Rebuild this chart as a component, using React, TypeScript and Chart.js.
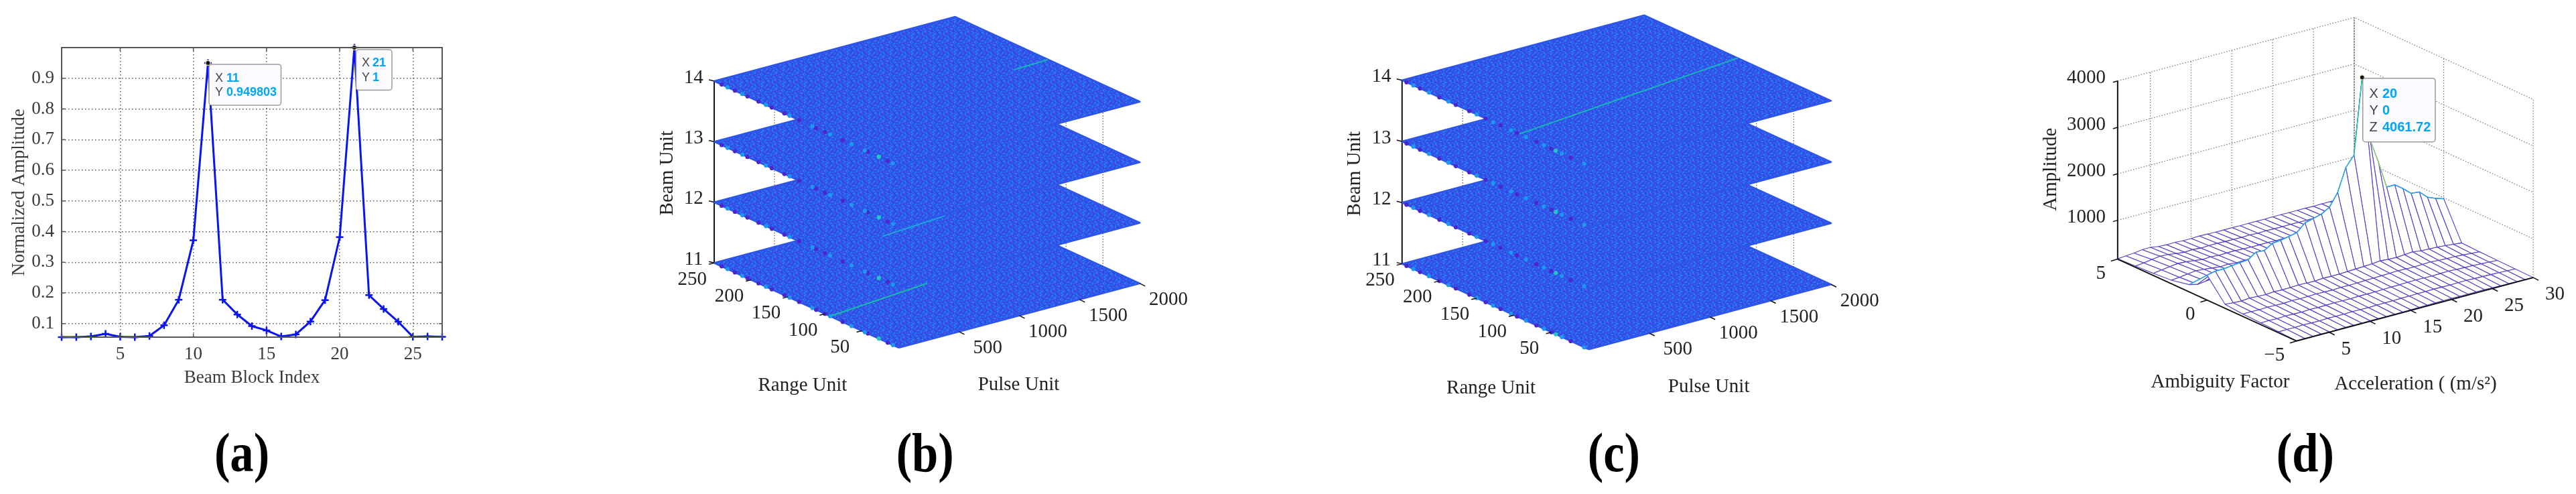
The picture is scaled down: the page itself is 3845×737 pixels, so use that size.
import React, { useEffect, useRef } from "react";
import { Chart, registerables } from "chart.js";

Chart.register(...registerables);

const SERIF = '"Liberation Serif"';
const SANS = '"Liberation Sans"';

// ---------- panel (a) ----------
const blockIndex = [1,2,3,4,5,6,7,8,9,10,11,12,13,14,15,16,17,18,19,20,21,22,23,24,25,26,27];
const blockAmplitude = [0.056,0.056,0.058,0.067,0.057,0.056,0.06,0.095,0.178,0.372,0.949803,0.178,0.13,0.092,0.078,0.058,0.065,0.107,0.177,0.382,1,0.193,0.148,0.106,0.057,0.058,0.057];
const blockXTicks = [5,10,15,20,25];
const blockYTicks = [0.1,0.2,0.3,0.4,0.5,0.6,0.7,0.8,0.9];
const blockTips = [{ x: 11, y: 0.949803 }, { x: 21, y: 1 }];

// ---------- panels (b) and (c) ----------
const pulseTicks = [500,1000,1500,2000];
const rangeTicks = [50,100,150,200,250];
const beamTicks = [11,12,13,14];
const bTracks = [
  { beam: 11, pulse: [0, 887], range: [93, 106], color: "#17bfa8" },
  { beam: 12, pulse: [492, 1054], range: [103, 110], color: "#1aa8d8" },
  { beam: 14, pulse: [1701, 1997], range: [122, 124], color: "#18b0c0" },
];
const cTracks = [
  { beam: 14, pulse: [0, 2000], range: [93, 125], color: "#18b8b4" },
];
const bBeadsDark = [240,222,205,190,172,155,135,112,100,76,42,15];
const bBeadsLight = [232,212,180,148,117,93,64,46,8];
const bBeadsTeal = [27];
const cBeadsDark = [244,226,200,178,160,138,118,96,70,50,24];
const cBeadsLight = [235,214,188,150,128,104,84,60,36,6];
const cBeadsTeal = [44];

// ---------- panel (d) ----------
const accel = [1,2,3,4,5,6,7,8,9,10,11,12,13,14,15,16,17,18,19,20,21,22,23,24,25,26,27,28,29,30];
const ambiguity = [5,4,3,2,1,0,-1,-2,-3,-4,-5];
const row5  = [170,185,200,225,228,200,190,195,180,185,190,185,180,178,182,175,180,178,176,180,178,175,178,176,172,175,176,174,172,170];
const row4  = [190,210,235,260,250,225,205,215,200,205,210,200,198,195,200,190,196,192,190,194,190,188,190,186,182,185,186,182,180,178];
const row3  = [210,235,260,280,270,250,225,235,220,225,228,218,212,210,215,205,210,208,205,212,208,202,205,198,195,196,198,192,188,185];
const row2  = [240,255,280,300,285,265,245,255,238,245,248,235,228,225,232,222,230,225,222,232,226,218,220,212,206,208,210,204,198,194];
const row1  = [320,280,300,318,300,285,265,272,255,265,268,252,245,242,250,240,252,246,245,268,250,238,236,228,218,220,222,214,206,200];
const row0  = [699,740,740,760,780,796,913,900,1007,1027,1060,1100,1260,1307,1354,1458,1728,2216,2436,4061.72,2657,2142,1561,1561,1434,1284,1267,1107,1033,980];
const rowM1 = [250,235,225,240,230,222,238,228,232,240,236,230,245,238,240,248,255,262,270,290,275,268,282,296,270,262,256,240,222,205];
const rowM2 = [215,220,212,222,215,210,222,215,218,225,220,215,226,222,224,232,236,240,244,252,246,240,248,254,240,234,228,216,204,190];
const rowM3 = [200,205,198,208,202,198,208,202,205,210,206,202,212,208,210,216,220,222,226,230,226,222,228,232,222,216,210,202,192,182];
const rowM4 = [185,190,186,194,188,186,194,188,190,196,192,188,196,194,196,200,202,204,206,210,206,204,208,210,202,198,194,188,180,174];
const rowM5 = [170,172,170,176,172,170,176,172,174,178,175,172,178,176,178,182,184,186,186,190,186,184,186,188,182,178,176,172,168,166];
const surfaceRows = [row5,row4,row3,row2,row1,row0,rowM1,rowM2,rowM3,rowM4,rowM5];
const ampTicks = [1000,2000,3000,4000];
const accelTicks = [5,10,15,20,25,30];
const ambiguityTicks = [5,0,-5];

// Hand-picked mottled tile standing in for the noise texture of the planes.
const tileRows = [
  "0120301002130210","2001020310201032","1020013002010201","0302100120300120",
  "2010203001021003","0100120210200210","1302001020130020","0021030120020301",
  "2100201003010120","0201300210200203","1020021001320100","3001020120010210",
];
const tilePalette = ["#2f56ea","#2a6cf0","#433fdc","#2488f4"];

function makeTile(): CanvasPattern | string {
  const c = document.createElement("canvas");
  const cell = 2;
  c.width = tileRows[0].length * cell;
  c.height = tileRows.length * cell;
  const g = c.getContext("2d");
  if (!g) return tilePalette[0];
  tileRows.forEach((row, j) => {
    [...row].forEach((d, i) => {
      g.fillStyle = tilePalette[Number(d)];
      g.fillRect(i * cell, j * cell, cell, cell);
    });
  });
  return g.createPattern(c, "repeat") || tilePalette[0];
}

type TextItem = { t: string; x: number; y: number; align?: CanvasTextAlign; rot?: number };

function drawTexts(chart: any, items: TextItem[], font: string, color: string) {
  const { ctx, scales } = chart;
  ctx.save();
  ctx.font = font;
  ctx.fillStyle = color;
  ctx.textBaseline = "middle";
  for (const it of items) {
    const px = scales.x.getPixelForValue(it.x);
    const py = scales.y.getPixelForValue(it.y);
    ctx.save();
    ctx.translate(px, py);
    if (it.rot) ctx.rotate(it.rot);
    ctx.textAlign = it.align || "center";
    ctx.fillText(it.t, 0, 0);
    ctx.restore();
  }
  ctx.restore();
}

function drawPanelLabel(ctx: CanvasRenderingContext2D, t: string, x: number) {
  ctx.save();
  ctx.font = `bold 82px ${SERIF}`;
  ctx.fillStyle = "#000";
  ctx.textAlign = "center";
  ctx.textBaseline = "alphabetic";
  ctx.translate(x, 703);
  ctx.scale(0.86, 1);
  ctx.fillText(t, 0, 0);
  ctx.restore();
}

function drawTip(ctx: CanvasRenderingContext2D, box: number[], lines: string[][], labelX: number, valueX: number, ys: number[], size: number) {
  const [x0, y0, x1, y1] = box;
  ctx.save();
  ctx.beginPath();
  ctx.roundRect(x0, y0, x1 - x0, y1 - y0, 4);
  ctx.fillStyle = "#fafaff";
  ctx.fill();
  ctx.strokeStyle = "#9a9a9a";
  ctx.lineWidth = 1.5;
  ctx.stroke();
  ctx.textBaseline = "middle";
  ctx.textAlign = "left";
  lines.forEach((l, i) => {
    ctx.font = `${size}px ${SANS}`;
    ctx.fillStyle = "#444";
    ctx.fillText(l[0], labelX, ys[i]);
    ctx.font = `bold ${size}px ${SANS}`;
    ctx.fillStyle = "#00a6f5";
    ctx.fillText(l[1], valueX, ys[i]);
  });
  ctx.restore();
}

const polyline = (pts: { x: number; y: number }[], color: any, width: number, extra: any = {}) => ({
  data: pts,
  showLine: true,
  pointRadius: 0,
  borderColor: color,
  borderWidth: width,
  tension: 0,
  fill: false,
  clip: false,
  ...extra,
});

const beads = (pts: { x: number; y: number }[], color: string) => ({
  data: pts,
  showLine: false,
  pointRadius: 3.1,
  pointBackgroundColor: color,
  pointBorderWidth: 0,
  clip: false,
});

function panelA(canvas: HTMLCanvasElement) {
  const framePlugin = {
    id: "frameA",
    afterDatasetsDraw(chart: any) {
      const { ctx, chartArea: a, scales } = chart;
      ctx.save();
      ctx.strokeStyle = "#555";
      ctx.lineWidth = 2;
      ctx.strokeRect(a.left, a.top, a.right - a.left, a.bottom - a.top);
      ctx.beginPath();
      for (const v of blockXTicks) {
        const p = scales.x.getPixelForValue(v);
        ctx.moveTo(p, a.top); ctx.lineTo(p, a.top + 5);
        ctx.moveTo(p, a.bottom); ctx.lineTo(p, a.bottom - 5);
      }
      for (const v of blockYTicks) {
        const p = scales.y.getPixelForValue(v);
        ctx.moveTo(a.left, p); ctx.lineTo(a.left + 5, p);
        ctx.moveTo(a.right, p); ctx.lineTo(a.right - 5, p);
      }
      ctx.lineWidth = 1.5;
      ctx.stroke();
      ctx.restore();
    },
    afterDraw(chart: any) {
      const { ctx } = chart;
      drawTip(ctx, [312, 96, 419.5, 157], [["X", "11"], ["Y", "0.949803"]], 321, 338, [117, 138], 18);
      drawTip(ctx, [531.5, 74, 585, 134.5], [["X", "21"], ["Y", "1"]], 540, 556, [94, 116], 18);
      drawPanelLabel(ctx, "(a)", 361);
    },
  };
  return new Chart(canvas, {
    type: "line",
    data: {
      labels: blockIndex,
      datasets: [
        {
          data: blockTips,
          showLine: false,
          pointRadius: 3.5,
          pointBackgroundColor: "#111",
          pointBorderColor: "#f7f0b8",
          pointBorderWidth: 1.2,
          clip: false,
        },
        {
          data: blockIndex.map((x, i) => ({ x, y: blockAmplitude[i] })),
          borderColor: "#0a14f0",
          borderWidth: 3,
          tension: 0,
          pointStyle: "cross",
          pointRadius: 5.5,
          pointBorderColor: "#0a14f0",
          pointBorderWidth: 2.5,
          clip: false,
        },
      ] as any,
    },
    plugins: [framePlugin],
    options: {
      animation: false,
      responsive: false,
      devicePixelRatio: 1,
      parsing: undefined as any,
      layout: { padding: { top: 71, right: 140, left: 0, bottom: 0 } },
      plugins: { legend: { display: false }, tooltip: { enabled: false } },
      scales: {
        x: {
          type: "linear",
          min: 1,
          max: 27,
          afterFit(s: any) { s.height = 234; },
          afterBuildTicks(s: any) { s.ticks = blockXTicks.map((value) => ({ value })); },
          grid: { color: "#555", lineWidth: 1.5, drawTicks: false },
          border: { display: false, dash: [1.5, 3.5] },
          ticks: { padding: 10, color: "#3a3a3a", font: { family: "Liberation Serif", size: 27 }, maxRotation: 0, autoSkip: false },
          title: { display: true, text: "Beam Block Index", color: "#3a3a3a", font: { family: "Liberation Serif", size: 27 }, padding: { bottom: 157, top: 0 } },
        },
        y: {
          type: "linear",
          min: 0.056,
          max: 1,
          afterFit(s: any) { s.width = 92; },
          afterBuildTicks(s: any) { s.ticks = blockYTicks.map((value) => ({ value })); },
          grid: { color: "#555", lineWidth: 1.5, drawTicks: false },
          border: { display: false, dash: [1.5, 3.5] },
          ticks: { padding: 11, color: "#3a3a3a", font: { family: "Liberation Serif", size: 27 }, autoSkip: false, callback: (v: any) => Number(v).toFixed(1) },
          title: { display: true, text: "Normalized Amplitude", color: "#3a3a3a", font: { family: "Liberation Serif", size: 27 }, padding: { top: 13, bottom: 0 } },
        },
      },
    } as any,
  });
}

type Geo = { ox: number; oy: number; px: number[]; rx: number[]; step: number };
type BeadSet = { dark: number[]; light: number[]; teal: number[] };

function panelPlanes(canvas: HTMLCanvasElement, left: number, width: number, g: Geo, tracks: any[], beadSet: BeadSet, titles: TextItem[], tag: string, tagX: number) {
  const P = (p: number, r: number, b: number) => ({
    x: g.ox + (p / 2000) * g.px[0] + (r / 250) * g.rx[0],
    y: g.oy + (p / 2000) * g.px[1] + (r / 250) * g.rx[1] - (b - 11) * g.step,
  });
  const texture = makeTile();
  const list: any[] = [];
  // walls' dotted verticals, behind every plane
  for (const r of rangeTicks) {
    list.push(polyline([P(2000, r, 11), P(2000, r, 14)], "#555", 1.2, { borderDash: [1.5, 2.5] }));
  }
  for (const p of pulseTicks) {
    list.push(polyline([P(p, 250, 11), P(p, 250, 14)], "#555", 1.2, { borderDash: [1.5, 2.5] }));
  }
  list.push(polyline([P(0, 250, 11), P(0, 250, 14)], "#111", 2));
  for (const b of beamTicks) {
    const corners = [P(0, 0, b), P(2000, 0, b), P(2000, 250, b), P(0, 250, b), P(0, 0, b)];
    list.push(polyline(corners, "#2d55ea", 2.5, { fill: "shape", backgroundColor: texture, borderJoinStyle: "round" }));
    list.push(beads(beadSet.dark.map((r) => P(0, r, b)), "#4a26cc"));
    list.push(beads(beadSet.light.map((r) => P(0, r, b)), "#1c98f2"));
    list.push(beads(beadSet.teal.map((r) => P(0, r, b)), "#22c8c0"));
    for (const t of tracks) {
      if (t.beam === b) {
        list.push(polyline([P(t.pulse[0], t.range[0], b), P(t.pulse[1], t.range[1], b)], t.color, 2));
      }
    }
  }
  const plugin = {
    id: "planes" + tag,
    afterDraw(chart: any) {
      const { ctx, scales } = chart;
      ctx.save();
      ctx.strokeStyle = "#111";
      ctx.lineWidth = 1.5;
      const stub = (q: { x: number; y: number }, dx: number, dy: number) => {
        const a = scales.x.getPixelForValue(q.x);
        const c = scales.y.getPixelForValue(q.y);
        ctx.beginPath();
        ctx.moveTo(a, c);
        ctx.lineTo(a + dx, c + dy);
        ctx.stroke();
      };
      beamTicks.forEach((b) => stub(P(0, 250, b), -8, -2));
      rangeTicks.forEach((r) => stub(P(0, r, 11), -8, 2));
      pulseTicks.forEach((p) => stub(P(p, 0, 11), 8, 4));
      ctx.restore();
      const items: TextItem[] = [];
      beamTicks.forEach((b) => { const q = P(0, 250, b); items.push({ t: String(b), x: q.x - 31, y: q.y - 5 }); });
      rangeTicks.forEach((r) => { const q = P(0, r, 11); items.push({ t: String(r), x: q.x - 33, y: q.y + 25 }); });
      pulseTicks.forEach((p) => { const q = P(p, 0, 11); items.push({ t: String(p), x: q.x + 43, y: q.y + 25 }); });
      drawTexts(chart, items, `29px ${SERIF}`, "#222");
      drawTexts(chart, titles, `29px ${SERIF}`, "#222");
      drawPanelLabel(ctx, tag, scales.x.getPixelForValue(tagX));
    },
  };
  return new Chart(canvas, {
    type: "scatter",
    data: { datasets: list.reverse() },
    plugins: [plugin],
    options: {
      animation: false,
      responsive: false,
      devicePixelRatio: 1,
      layout: { padding: 0 },
      plugins: { legend: { display: false }, tooltip: { enabled: false } },
      scales: {
        x: { type: "linear", display: false, min: left, max: left + width },
        y: { type: "linear", display: false, min: 0, max: 737, reverse: true },
      },
    } as any,
  });
}

function panelD(canvas: HTMLCanvasElement, left: number, width: number) {
  const O = { x: 3428, y: 510.8 };
  const UX = [12.33, -3.31];
  const UY = [-27.04, -12.4];
  const ZS = 0.0703;
  const ZMIN = 164;
  const Q = (x: number, y: number, z: number) => ({
    x: O.x + (x - 1) * UX[0] + (y + 5) * UY[0],
    y: O.y + (x - 1) * UX[1] + (y + 5) * UY[1] - (z - ZMIN) * ZS,
  });
  const list: any[] = [];
  const wall = "#777";
  const dash = { borderDash: [1.5, 2.5] };
  for (const z of ampTicks) {
    list.push(polyline([Q(1, 5, z), Q(30, 5, z), Q(30, -5, z)], wall, 1.2, dash));
  }
  for (const x of accelTicks) {
    if (x !== 30) list.push(polyline([Q(x, 5, ZMIN), Q(x, 5, 4000)], wall, 1.2, dash));
  }
  for (const y of [0, -5]) {
    list.push(polyline([Q(30, y, ZMIN), Q(30, y, 4000)], wall, 1.2, dash));
  }
  list.push(polyline([Q(30, 5, ZMIN), Q(30, 5, 4000)], "#888", 1.8, { borderDash: [3, 1] }));

  const meshColor = "#5540cc";
  for (let j = 0; j < surfaceRows.length - 1; j++) {
    for (let i = accel.length - 2; i >= 0; i--) {
      const a = Q(accel[i], ambiguity[j], surfaceRows[j][i]);
      const b = Q(accel[i + 1], ambiguity[j], surfaceRows[j][i + 1]);
      const c = Q(accel[i + 1], ambiguity[j + 1], surfaceRows[j + 1][i + 1]);
      const d = Q(accel[i], ambiguity[j + 1], surfaceRows[j + 1][i]);
      list.push(polyline([a, b, c, d, a], meshColor, 1.1, { fill: "shape", backgroundColor: "#ffffff" }));
    }
  }
  const heightColor = (z: number) => (z > 2600 ? "#16cfa8" : z > 1900 ? "#14bfd8" : "#1ea8ef");
  const ridge = accel.map((x, i) => Q(x, 0, row0[i]));
  list.push(polyline(ridge, "#1ea8ef", 1.4, {
    segment: {
      borderColor: (c: any) => {
        const i = c.p0DataIndex;
        if (i === 20 || i === 21) return "#8ed860";
        return heightColor(Math.max(row0[i], row0[i + 1]));
      },
    },
  }));
  list.push(polyline([Q(1, 1, row1[0]), Q(1, 0, row0[0])], "#1ea8ef", 1.4));
  // floor and axis edges
  list.push(polyline([Q(1, 5, ZMIN), Q(1, -5, ZMIN), Q(30, -5, ZMIN)], "#111", 2));
  list.push(polyline([Q(1, 5, ZMIN), Q(1, 5, 4000)], "#111", 2));
  // peak marker
  list.push({
    data: [Q(20, 0, 4061.72)],
    showLine: false,
    pointRadius: 3.5,
    pointBackgroundColor: "#111",
    pointBorderColor: "#f7f0b8",
    pointBorderWidth: 1.2,
    clip: false,
  });

  const plugin = {
    id: "meshD",
    afterDraw(chart: any) {
      const { ctx, scales } = chart;
      ctx.save();
      ctx.strokeStyle = "#111";
      ctx.lineWidth = 1.5;
      const stub = (q: { x: number; y: number }, dx: number, dy: number) => {
        const a = scales.x.getPixelForValue(q.x);
        const c = scales.y.getPixelForValue(q.y);
        ctx.beginPath();
        ctx.moveTo(a, c);
        ctx.lineTo(a + dx, c + dy);
        ctx.stroke();
      };
      ampTicks.forEach((z) => stub(Q(1, 5, z), -7, 2));
      accelTicks.forEach((x) => stub(Q(x, -5, ZMIN), 8, 4));
      ambiguityTicks.forEach((y) => stub(Q(1, y, ZMIN), -10, 3));
      ctx.restore();
      drawTip(ctx, [3526.7 - left, 116.7, 3635 - left, 211.7], [["X", "20"], ["Y", "0"], ["Z", "4061.72"]], 3536.5 - left, 3556 - left, [140, 165, 190.7], 20);
      const items: TextItem[] = [];
      ampTicks.forEach((z) => { const q = Q(1, 5, z); items.push({ t: String(z), x: q.x - 18, y: q.y - 4, align: "right" }); });
      ambiguityTicks.forEach((y) => { const q = Q(1, y, ZMIN); items.push({ t: y < 0 ? "\u2212" + Math.abs(y) : String(y), x: q.x - 18, y: q.y + 22, align: "right" }); });
      accelTicks.forEach((x) => { const q = Q(x, -5, ZMIN); items.push({ t: String(x), x: q.x + 18, y: q.y + 26, align: "left" }); });
      items.push({ t: "Amplitude", x: 3057, y: 251, rot: -Math.PI / 2 });
      items.push({ t: "Ambiguity Factor", x: 3312.6, y: 573.7 });
      items.push({ t: "Acceleration ( (m/s\u00b2)", x: 3607.8, y: 576 });
      drawTexts(chart, items, `29px ${SERIF}`, "#222");
      drawPanelLabel(ctx, "(d)", scales.x.getPixelForValue(3441));
    },
  };
  return new Chart(canvas, {
    type: "scatter",
    data: { datasets: list.reverse() },
    plugins: [plugin],
    options: {
      animation: false,
      responsive: false,
      devicePixelRatio: 1,
      layout: { padding: 0 },
      plugins: { legend: { display: false }, tooltip: { enabled: false } },
      scales: {
        x: { type: "linear", display: false, min: left, max: left + width },
        y: { type: "linear", display: false, min: 0, max: 737, reverse: true },
      },
    } as any,
  });
}

const rects = [
  { left: 0, width: 800 },
  { left: 900, width: 900 },
  { left: 1950, width: 900 },
  { left: 3000, width: 845 },
];

export default function App() {
  const refs = [useRef<HTMLCanvasElement>(null), useRef<HTMLCanvasElement>(null), useRef<HTMLCanvasElement>(null), useRef<HTMLCanvasElement>(null)];
  useEffect(() => {
    document.body.style.margin = "0";
    document.body.style.overflow = "hidden";
    const charts = [
      panelA(refs[0].current!),
      panelPlanes(refs[1].current!, 900, 900,
        { ox: 1341.5, oy: 520.5, px: [363, -97], rx: [-278, -128], step: 91.4 }, bTracks,
        { dark: bBeadsDark, light: bBeadsLight, teal: bBeadsTeal },
        [{ t: "Beam Unit", x: 993.5, y: 257, rot: -Math.PI / 2 }, { t: "Range Unit", x: 1196.6, y: 578 }, { t: "Pulse Unit", x: 1522, y: 576.5 }],
        "(b)", 1381),
      panelPlanes(refs[2].current!, 1950, 900,
        { ox: 2371, oy: 522.9, px: [365, -98], rx: [-281, -129], step: 92.3 }, cTracks,
        { dark: cBeadsDark, light: cBeadsLight, teal: cBeadsTeal },
        [{ t: "Beam Unit", x: 2019, y: 258, rot: -Math.PI / 2 }, { t: "Range Unit", x: 2224, y: 582 }, { t: "Pulse Unit", x: 2552, y: 580 }],
        "(c)", 2409),
      panelD(refs[3].current!, 3000, 845),
    ];
    return () => charts.forEach((c) => c.destroy());
  }, []);
  return (
    <div style={{ position: "absolute", left: 0, top: 0, width: 3845, height: 737, background: "#fff", overflow: "hidden" }}>
      {rects.map((r, i) => (
        <canvas key={i} ref={refs[i]} width={r.width} height={737} style={{ position: "absolute", left: r.left, top: 0, width: r.width, height: 737 }} />
      ))}
    </div>
  );
}
